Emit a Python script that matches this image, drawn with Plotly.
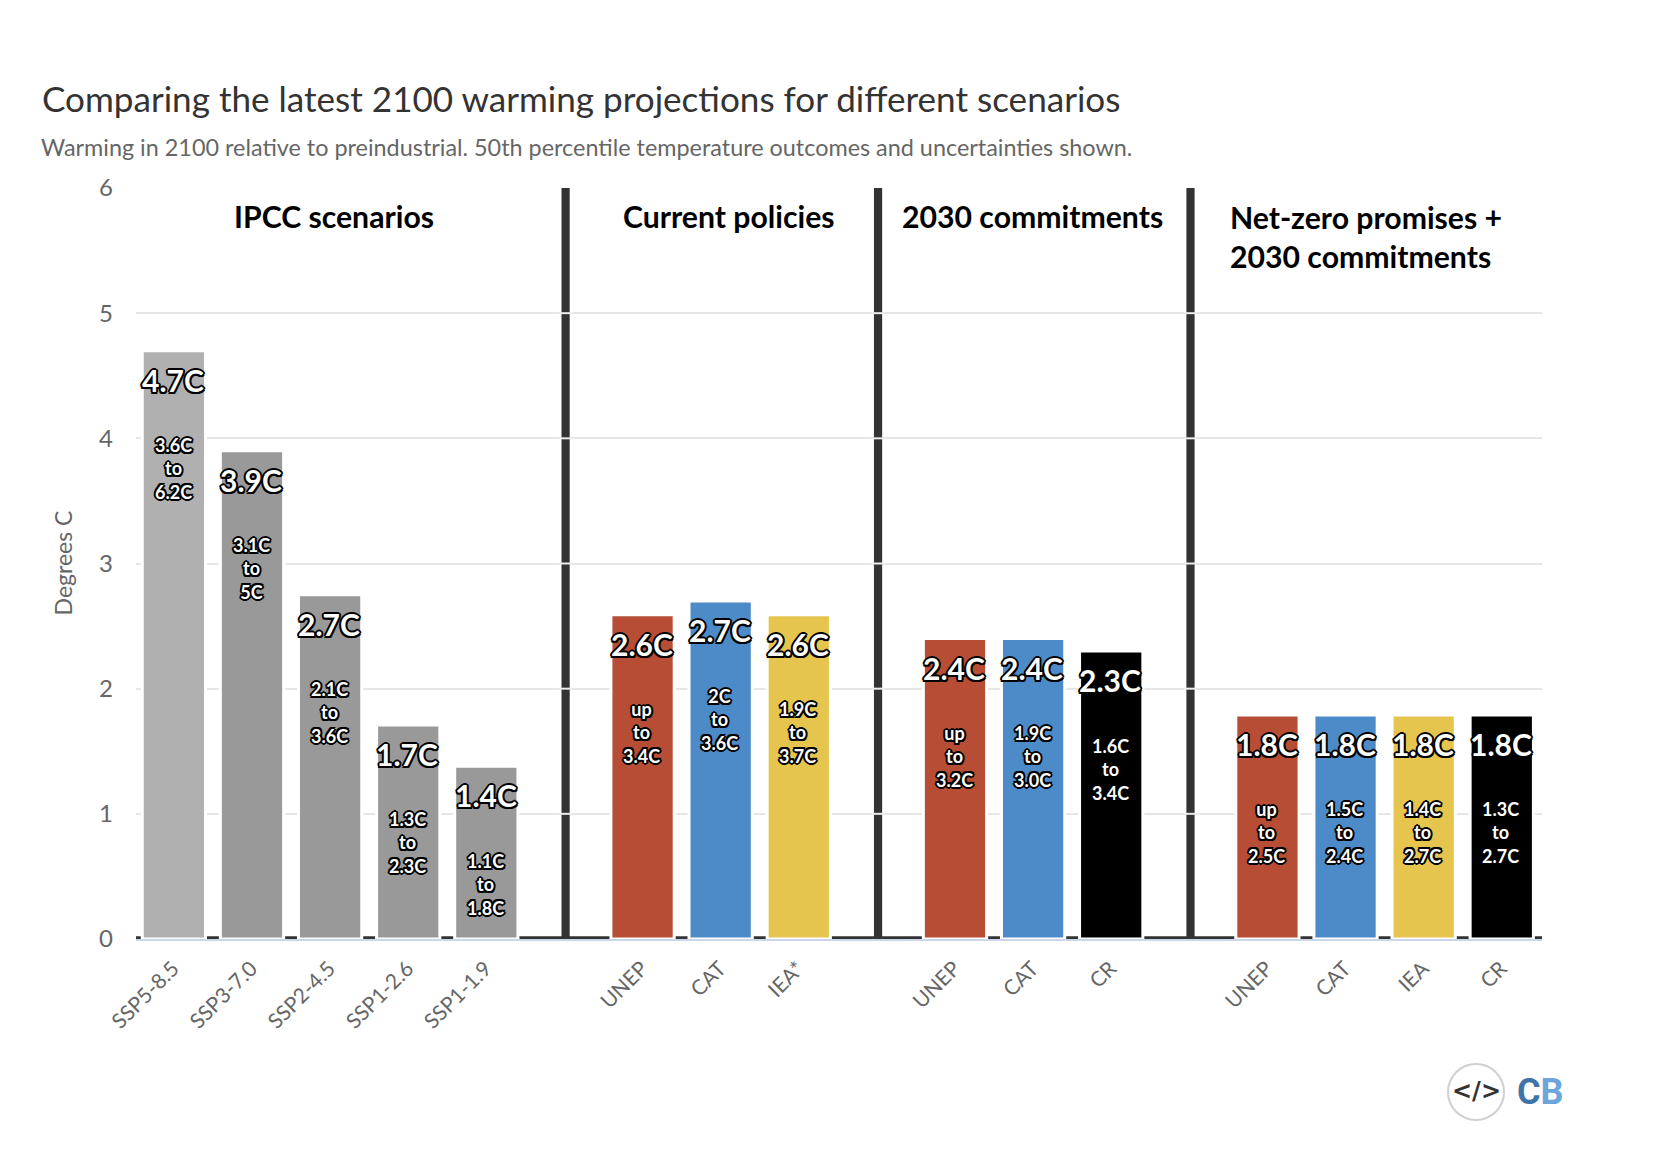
import plotly.graph_objects as go

FONT = "Lato"

# blanks are the slots taken by the dark separators
categories = ["SSP5-8.5", "SSP3-7.0", "SSP2-4.5", "SSP1-2.6", "SSP1-1.9", "",
              "UNEP", "CAT", "IEA*", "",
              "UNEP", "CAT", "CR", "",
              "UNEP", "CAT", "IEA", "CR"]
values = [4.7, 3.9, 2.75, 1.71, 1.38, None,
          2.59, 2.7, 2.59, None,
          2.4, 2.4, 2.3, None,
          1.79, 1.79, 1.79, 1.79]
central_labels = ["4.7C", "3.9C", "2.7C", "1.7C", "1.4C", "",
                  "2.6C", "2.7C", "2.6C", "",
                  "2.4C", "2.4C", "2.3C", "",
                  "1.8C", "1.8C", "1.8C", "1.8C"]
range_labels = ["3.6C<br>to<br>6.2C", "3.1C<br>to<br>5C", "2.1C<br>to<br>3.6C",
                "1.3C<br>to<br>2.3C", "1.1C<br>to<br>1.8C", "",
                "up<br>to<br>3.4C", "2C<br>to<br>3.6C", "1.9C<br>to<br>3.7C", "",
                "up<br>to<br>3.2C", "1.9C<br>to<br>3.0C", "1.6C<br>to<br>3.4C", "",
                "up<br>to<br>2.5C", "1.5C<br>to<br>2.4C", "1.4C<br>to<br>2.7C", "1.3C<br>to<br>2.7C"]
colors = ["#b0b0b0", "#999999", "#999999", "#999999", "#999999", "#ffffff",
          "#b74d34", "#4c8bc8", "#e6c54f", "#ffffff",
          "#b74d34", "#4c8bc8", "#000000", "#ffffff",
          "#b74d34", "#4c8bc8", "#e6c54f", "#000000"]
y_ticks = [0, 1, 2, 3, 4, 5, 6]

W, H = 1648, 1154   # page body adds 8px around the plot
ML, MR, MT, MB = 128, 114, 179, 223
PW = W - ML - MR
PH = H - MT - MB


def px(x):
    return (x - 8 - ML) / PW


def py(y):
    return 1 - (y - 8 - MT) / PH


xs = list(range(len(categories)))
sep_x = [i for i, c in enumerate(categories) if c == ""]
bar_x = [i for i in xs if values[i] is not None]

fig = go.Figure()

# separators
fig.add_trace(go.Bar(
    x=sep_x, y=[y_ticks[-1]] * len(sep_x), width=0.105,
    marker=dict(color="#333333", line=dict(width=0)), hoverinfo="skip",
))
# bars sit slightly left of their slot in the original
fig.add_trace(go.Bar(
    x=bar_x, y=[values[i] for i in bar_x], width=0.81, offset=-0.42,
    marker=dict(color=[colors[i] for i in bar_x], line=dict(color="white", width=3)),
))
# light gridline notches on the separators
fig.add_trace(go.Scatter(
    x=[x for x in sep_x for t in y_ticks[1:-1]],
    y=[t for x in sep_x for t in y_ticks[1:-1]],
    mode="markers", hoverinfo="skip",
    marker=dict(symbol="line-ew", size=9, line=dict(color="#eeeeee", width=2)),
))

fig.update_layout(
    width=W, height=H,
    margin=dict(l=ML, r=MR, t=MT, b=MB, pad=0),
    paper_bgcolor="white", plot_bgcolor="white",
    barmode="overlay", showlegend=False,
    font=dict(family=FONT, color="#666666"),
    title=dict(
        text="Comparing the latest 2100 warming projections for different scenarios",
        font=dict(family=FONT, size=35.1, color="#333333"),
        x=(42 - 8) / W, xanchor="left", y=1 - (100 - 8) / H, yanchor="middle",
    ),
    xaxis=dict(
        range=[-0.5, len(categories) - 0.5],
        tickmode="array", tickvals=xs, ticktext=categories, tickangle=-45,
        tickfont=dict(size=21, color="#666666"), ticks="", ticklabelstandoff=7,
        ticklabelshift=-2,
        showgrid=False, zeroline=False,
        showline=True, linecolor="#ccd6eb", linewidth=2,
    ),
    yaxis=dict(
        # a hair over 6 so plotly keeps the top gridline
        range=[0, 6.008], tickvals=y_ticks,
        tickfont=dict(size=24, color="#666666"), ticks="", ticklabelstandoff=22,
        showgrid=True, gridcolor="#e6e6e6", gridwidth=2, zeroline=False,
        title=dict(text="Degrees C", font=dict(size=23, color="#666666"), standoff=20),
    ),
)

# dark baseline behind the bars
fig.add_shape(type="rect", xref="paper", yref="y", x0=0, x1=1, y0=0, y1=0.022,
              fillcolor="#333333", line=dict(width=0), layer="between")

# logo ring
fig.add_shape(type="circle", xref="paper", yref="paper",
              x0=px(1448), x1=px(1504), y0=py(1120), y1=py(1064),
              line=dict(color="#d0d0d0", width=2), fillcolor="white")

OUTLINE = ", ".join(f"{a}px {b}px 0 #000" for a, b in
                    [(-2, 0), (2, 0), (0, -2), (0, 2), (-1.5, -1.5), (1.5, -1.5), (-1.5, 1.5), (1.5, 1.5)])
for i in bar_x:
    fig.add_annotation(
        x=i, y=values[i], xshift=-2, yshift=-29, yanchor="middle", showarrow=False,
        text=central_labels[i],
        font=dict(family=FONT, size=30, color="white", weight="bold", shadow=OUTLINE),
    )
    fig.add_annotation(
        x=i, y=values[i], xshift=-2, yshift=-118, yanchor="middle", showarrow=False,
        text=range_labels[i],
        font=dict(family=FONT, size=18, color="white", weight="bold", shadow=OUTLINE),
    )

headers = [("IPCC scenarios", 334, "center"), ("Current policies", 729, "center"),
           ("2030 commitments", 1032, "center")]
for text, xp, anchor in headers:
    fig.add_annotation(
        xref="paper", yref="paper", x=px(xp), y=py(216), xanchor=anchor, yanchor="middle",
        showarrow=False, text=text,
        font=dict(family=FONT, size=30.2, color="black", weight="bold"),
    )
fig.add_annotation(
    xref="paper", yref="paper", x=px(1228), y=py(237), xanchor="left", yanchor="middle",
    align="left", showarrow=False, text="Net-zero promises +<br>2030 commitments",
    font=dict(family=FONT, size=30.2, color="black", weight="bold"),
)
fig.add_annotation(
    xref="paper", yref="paper", x=px(39), y=py(147), xanchor="left", yanchor="middle",
    showarrow=False,
    text="Warming in 2100 relative to preindustrial. 50th percentile temperature outcomes and uncertainties shown.",
    font=dict(family=FONT, size=23.4, color="#666666"),
)
# logo
fig.add_annotation(
    xref="paper", yref="paper", x=px(1476), y=py(1091), xanchor="center", yanchor="middle",
    showarrow=False, text="&lt;/&gt;",
    font=dict(family="DejaVu Sans", size=24, color="#333333", weight="bold"),
)
fig.add_annotation(
    xref="paper", yref="paper", x=px(1540), y=py(1092), xanchor="center", yanchor="middle",
    showarrow=False,
    text='<span style="color:#3f74a8">C</span><span style="color:#6ba5dc">B</span>',
    font=dict(family="Roboto", size=36, weight="bold"),
)

fig.write_html("out.html")
